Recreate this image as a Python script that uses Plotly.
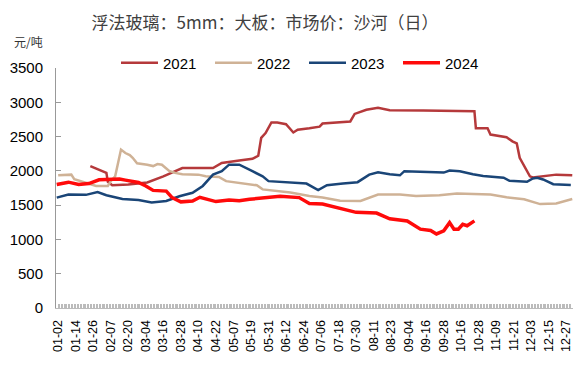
import datetime as dt
import plotly.graph_objects as go

# ---- categories (trading-day calendar, MM-DD) ----
holidays = ["02-10", "04-05", "05-01", "05-02", "05-03",
            "10-01", "10-02", "10-03", "10-04", "10-05", "10-06"]
start = dt.date(2023, 1, 1)
all_days = [(start + dt.timedelta(days=i)).strftime("%m-%d") for i in range(365)]
categories = [d for d in all_days if d not in holidays]

tick_labels = ["01-02", "01-14", "01-26", "02-07", "02-20", "03-04", "03-16", "03-28",
               "04-10", "04-22", "05-07", "05-19", "05-31", "06-12", "06-24", "07-06",
               "07-18", "07-30", "08-11", "08-23", "09-04", "09-16", "09-28", "10-16",
               "10-28", "11-09", "11-21", "12-03", "12-15", "12-27"]

# ---- series ----
d2021 = ["01-24", "01-31", "02-04", "02-05", "02-08", "02-20", "03-05", "03-16", "03-29",
         "04-20", "04-26", "05-11", "05-18", "05-20", "05-24", "05-26", "05-29", "06-02",
         "06-06", "06-12", "06-17", "06-20", "06-28", "07-05", "07-07", "07-26", "07-29",
         "08-06", "08-14", "08-22", "09-14", "10-25", "10-26", "11-03", "11-05", "11-16",
         "11-20", "11-23", "11-25", "12-02", "12-04", "12-11", "12-20", "12-31"]
v2021 = [2070, 2000, 1970, 1840, 1790, 1800, 1830, 1920, 2040,
         2040, 2115, 2150, 2165, 2175, 2220, 2480, 2550, 2705,
         2705, 2680, 2560, 2600, 2620, 2645, 2690, 2720, 2830,
         2890, 2920, 2885, 2880, 2870, 2620, 2620, 2530, 2490,
         2430, 2400, 2190, 1920, 1905, 1920, 1945, 1935]

d2022 = ["01-02", "01-11", "01-13", "01-21", "01-28", "02-05", "02-07", "02-11", "02-15",
         "02-18", "02-21", "02-23", "02-26", "03-05", "03-09", "03-12", "03-15", "03-20",
         "03-24", "03-29", "04-10", "04-15", "04-24", "04-29", "05-09", "05-23", "05-27",
         "06-05", "06-15", "06-28", "07-07", "07-19", "08-02", "08-14", "08-29", "09-09",
         "09-25", "10-13", "11-05", "11-16", "11-28", "12-09", "12-20", "12-31"]
v2022 = [1935, 1945, 1880, 1830, 1780, 1780, 1850, 1920, 2310,
         2260, 2230, 2190, 2110, 2090, 2070, 2100, 2090, 2000,
         1970, 1950, 1945, 1922, 1912, 1850, 1827, 1790, 1730,
         1710, 1685, 1635, 1610, 1565, 1560, 1655, 1655, 1635,
         1645, 1670, 1655, 1615, 1585, 1515, 1525, 1590]

d2023 = ["01-01", "01-09", "01-21", "01-29", "02-04", "02-16", "02-27", "03-08", "03-18",
         "03-27", "04-06", "04-13", "04-20", "04-26", "05-04", "05-11", "05-20", "05-27",
         "05-31", "06-21", "06-26", "07-04", "07-10", "07-21", "07-31", "08-08", "08-14",
         "08-22", "08-29", "09-01", "09-19", "09-28", "10-08", "10-15", "10-24", "10-31",
         "11-14", "11-18", "11-30", "12-04", "12-07", "12-11", "12-18", "12-30"]
v2023 = [1610, 1655, 1650, 1690, 1645, 1590, 1575, 1540, 1560,
         1630, 1680, 1780, 1945, 1995, 2090, 2090, 1995, 1920,
         1850, 1830, 1815, 1720, 1790, 1815, 1835, 1945, 1980,
         1950, 1935, 1995, 1975, 1975, 2005, 1995, 1950, 1925,
         1900, 1855, 1840, 1890, 1900, 1875, 1805, 1795]

d2024 = ["01-01", "01-09", "01-16", "01-23", "01-30", "02-14", "02-18", "02-27", "03-04",
         "03-09", "03-18", "03-22", "03-28", "04-06", "04-11", "04-22", "05-04", "05-11",
         "05-18", "05-29", "06-08", "06-21", "06-28", "07-07", "07-21", "07-30", "08-13",
         "08-22", "09-03", "09-12", "09-19", "09-23", "09-28", "10-08", "10-11", "10-14",
         "10-17", "10-20", "10-25"]
v2024 = [1800, 1835, 1800, 1815, 1870, 1880, 1865, 1830, 1780,
         1715, 1705, 1610, 1548, 1560, 1615, 1552, 1575, 1565,
         1585, 1605, 1630, 1610, 1525, 1515, 1440, 1395, 1385,
         1300, 1270, 1150, 1130, 1080, 1125, 1245, 1150, 1150,
         1220, 1200, 1270]

series = [
    ("2021", d2021, v2021, "#B5393B", 2.5),
    ("2022", d2022, v2022, "#CFB296", 2.5),
    ("2023", d2023, v2023, "#1A4577", 2.5),
    ("2024", d2024, v2024, "#FF0A0A", 3.5),
]

fig = go.Figure()
for name, xs, ys, color, w in series:
    fig.add_trace(go.Scatter(x=xs, y=ys, mode="lines", name=name,
                             line=dict(color=color, width=w)))

ticktext = [c if c in tick_labels else "" for c in categories]

fig.update_layout(
    width=587, height=369,
    margin=dict(l=56, r=14, t=68, b=61, autoexpand=False),
    paper_bgcolor="white", plot_bgcolor="white",
    font=dict(family="Arial, Liberation Sans, sans-serif", color="#000000"),
    title=dict(text="浮法玻璃：5mm：大板：市场价：沙河（日）",
               x=265 / 587, xanchor="center", y=1 - 23 / 369, yanchor="middle",
               font=dict(family="Noto Sans CJK SC", size=17, color="#404040")),
    showlegend=True,
    legend=dict(orientation="h", x=(116 - 56) / 517, xanchor="left",
                y=(308 - 63) / 240, yanchor="middle",
                font=dict(size=15, color="#000000"),
                bgcolor="rgba(0,0,0,0)", itemwidth=37, entrywidth=42,
                traceorder="normal"),
    xaxis=dict(type="category", categoryorder="array", categoryarray=categories,
               range=[-0.5, len(categories) - 0.5], automargin=False,
               tickmode="array", tickvals=categories, ticktext=ticktext,
               tickangle=-90, ticks="inside", ticklen=4, tickcolor="#BBBBBB",
               tickwidth=1, showline=True, linecolor="#BBBBBB", linewidth=1,
               showgrid=False, zeroline=False,
               tickfont=dict(size=12.5, color="#000000"), ticklabelstandoff=6),
    yaxis=dict(range=[0, 3500], tickmode="array", automargin=False,
               tickvals=[0, 500, 1000, 1500, 2000, 2500, 3000, 3500],
               ticks="inside", ticklen=5, tickcolor="#999999",
               showline=True, linecolor="#999999", linewidth=1,
               showgrid=False, zeroline=False,
               tickfont=dict(size=15, color="#000000"), ticklabelstandoff=9),
)

fig.add_annotation(text="元/吨", xref="paper", yref="paper",
                   x=(12 - 56) / 517, y=(308 - 42) / 240,
                   xanchor="left", yanchor="middle", showarrow=False,
                   font=dict(family="Noto Sans CJK SC", size=12, color="#333333"))

fig.write_html("out.html", config={"displayModeBar": False},
               post_script="document.body.style.margin='0px';document.body.style.overflow='hidden';")
